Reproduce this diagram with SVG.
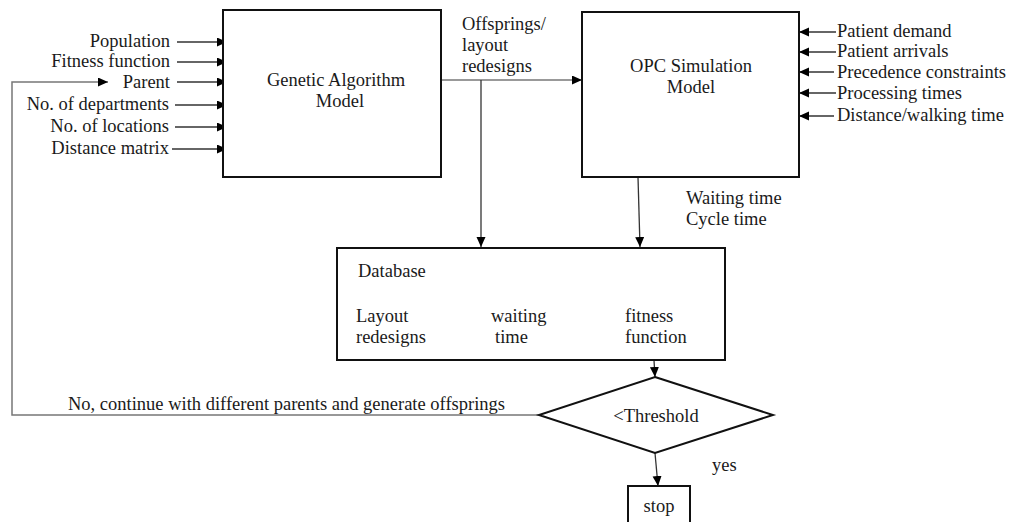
<svg xmlns="http://www.w3.org/2000/svg" width="1012" height="522" viewBox="0 0 1012 522">
<style>
text{font-family:"Liberation Serif","Times New Roman",serif;font-size:18.5px;fill:#1a1a1a}
.box{fill:#fff;stroke:#111;stroke-width:2}
.c{fill:none;stroke:#333;stroke-width:1.3}
.g{fill:none;stroke:#777;stroke-width:1.5}
.r{text-anchor:end}
.m{text-anchor:middle}
</style>
<defs>
<marker id="ah" markerUnits="userSpaceOnUse" markerWidth="11" markerHeight="10" refX="10" refY="4.5" orient="auto">
<path d="M0,0 L10,4.5 L0,9 z" fill="#000"/>
</marker>
</defs>
<rect width="1012" height="522" fill="#fff"/>
<g id="connectors">
<line class="c" x1="177" y1="42" x2="227" y2="42" marker-end="url(#ah)"/>
<line class="c" x1="177" y1="62" x2="227" y2="62" marker-end="url(#ah)"/>
<line class="c" x1="177" y1="82" x2="227" y2="82" marker-end="url(#ah)"/>
<line class="c" x1="175" y1="105" x2="227" y2="105" marker-end="url(#ah)"/>
<line class="c" x1="175" y1="127" x2="227" y2="127" marker-end="url(#ah)"/>
<line class="c" x1="172" y1="149" x2="227" y2="149" marker-end="url(#ah)"/>
<line class="c" x1="836" y1="32" x2="799" y2="32" marker-end="url(#ah)"/>
<line class="c" x1="836" y1="52" x2="799" y2="52" marker-end="url(#ah)"/>
<line class="c" x1="834" y1="72" x2="799" y2="72" marker-end="url(#ah)"/>
<line class="c" x1="836" y1="93" x2="799" y2="93" marker-end="url(#ah)"/>
<line class="c" x1="834" y1="116" x2="799" y2="116" marker-end="url(#ah)"/>
<line class="g" x1="441" y1="80" x2="582" y2="80" marker-end="url(#ah)"/>
<line class="c" x1="481" y1="80" x2="481" y2="247" marker-end="url(#ah)"/>
<line class="c" x1="638" y1="177" x2="640" y2="247" marker-end="url(#ah)"/>
<line class="c" x1="654" y1="360" x2="655" y2="377" marker-end="url(#ah)"/>
<line class="c" x1="655" y1="453" x2="658" y2="486" marker-end="url(#ah)"/>
<polyline class="g" points="539,415 12,415 12,82 108,82" marker-end="url(#ah)"/>
</g>
<g id="inputs-left">
<text class="r" x="170" y="47">Population</text>
<text class="r" x="170" y="67">Fitness function</text>
<text class="r" x="170" y="88">Parent</text>
<text class="r" x="169" y="110">No. of departments</text>
<text class="r" x="169" y="132">No. of locations</text>
<text class="r" x="169" y="154">Distance matrix</text>
</g>
<g id="ga">
<rect class="box" x="223" y="10" width="218" height="167"/>
<text class="m" x="336" y="86">Genetic Algorithm</text>
<text class="m" x="340" y="107">Model</text>
</g>
<g id="offspring-label">
<text x="462" y="30">Offsprings/</text>
<text x="462" y="51">layout</text>
<text x="462" y="72">redesigns</text>
</g>
<g id="opc">
<rect class="box" x="582" y="12" width="217" height="165"/>
<text class="m" x="691" y="72">OPC Simulation</text>
<text class="m" x="691" y="93">Model</text>
</g>
<g id="inputs-right">
<text x="837" y="37">Patient demand</text>
<text x="837" y="57">Patient arrivals</text>
<text x="837" y="78">Precedence constraints</text>
<text x="837" y="99">Processing times</text>
<text x="837" y="121">Distance/walking time</text>
</g>
<g id="outputs-label">
<text x="686" y="204">Waiting time</text>
<text x="686" y="225">Cycle time</text>
</g>
<g id="database">
<rect class="box" x="337" y="248" width="388" height="112"/>
<text x="358" y="277">Database</text>
<text x="356" y="322">Layout</text>
<text x="356" y="343">redesigns</text>
<text x="491" y="322">waiting</text>
<text x="495" y="343">time</text>
<text x="625" y="322">fitness</text>
<text x="625" y="343">function</text>
</g>
<g id="feedback-label">
<text x="68" y="410">No, continue with different parents and generate offsprings</text>
</g>
<g id="threshold">
<polygon class="box" points="655,377 773,415 655,453 539,415"/>
<text class="m" x="656" y="422">&lt;Threshold</text>
</g>
<g id="yes-label">
<text x="712" y="471">yes</text>
</g>
<g id="stop">
<rect class="box" x="628" y="486" width="62" height="50"/>
<text class="m" x="659" y="512">stop</text>
</g>
</svg>
